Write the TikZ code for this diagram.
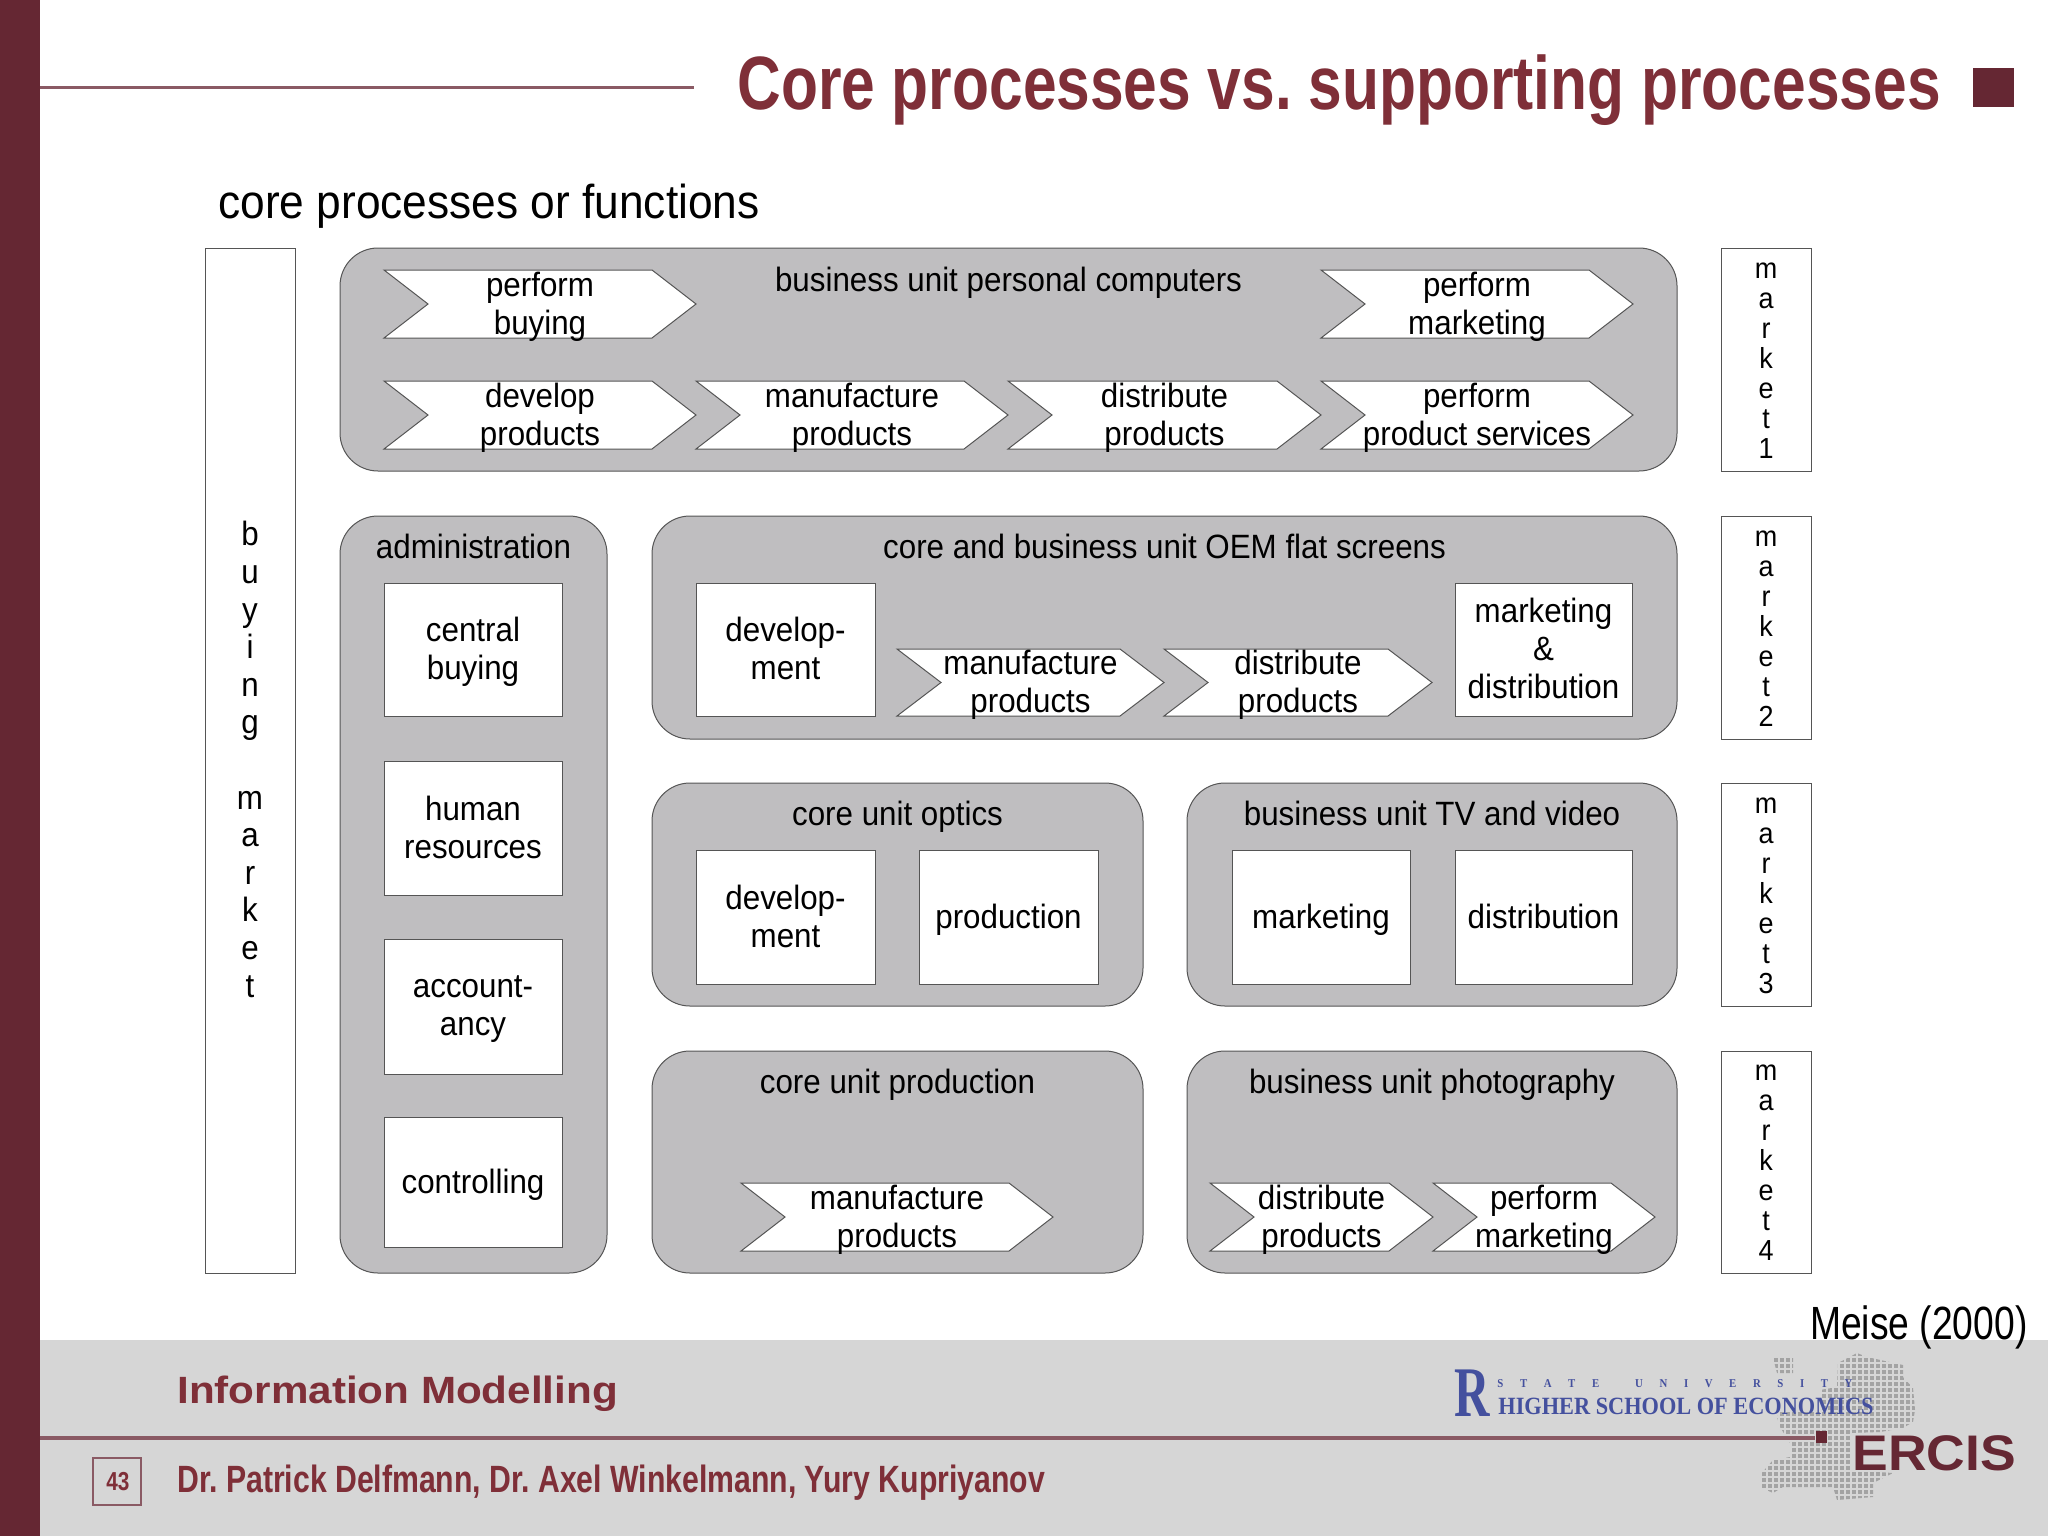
\documentclass[tikz,border=0pt]{standalone}
\usepackage{fontspec}
\usepackage{graphicx}
\setmainfont{Liberation Sans}
\newfontfamily\narrowf[FakeStretch=0.93]{Liberation Sans}
\newfontfamily\titlef[FakeStretch=0.80]{Liberation Sans}
\newfontfamily\authorf[FakeStretch=0.795]{Liberation Sans}
\newfontfamily\widef[FakeStretch=1.11]{Liberation Sans}
\newfontfamily\ercisf[FakeStretch=1.07]{Liberation Sans}
\newfontfamily\logof[FakeStretch=0.9]{Liberation Serif}
\newfontfamily\logoRf[FakeStretch=0.69]{Liberation Serif}
\frenchspacing
\definecolor{barc}{HTML}{652733}
\definecolor{redc}{HTML}{7F2F38}
\definecolor{linec}{HTML}{8A5A64}
\definecolor{foot}{HTML}{D6D6D6}
\definecolor{panel}{HTML}{BFBEC0}
\definecolor{edgec}{HTML}{555555}
\definecolor{hse}{HTML}{44509E}
\newcommand{\stt}{\vphantom{dg}}
\tikzset{
  lbl/.style={align=center,inner sep=0pt,font=\narrowf\fontsize{16.85}{19}\selectfont,
    execute at begin node=\stt,execute at end node=\stt},
  panelbox/.style={draw=edgec,line width=0.5pt,fill=panel,rounded corners=19pt},
  whitebox/.style={draw=edgec,line width=0.5pt,fill=white},
  chevbox/.style={draw=edgec,line width=0.5pt,fill=white,line join=miter},
  vert/.style={align=center,inner sep=0pt,anchor=center},
}
% \chev{name}{x1}{x2}{ytop}{ybot}{text}
\newcommand{\chev}[6]{%
  \draw[chevbox] (#2,#4) -- ({#3-44},#4) -- (#3,{(#4+#5)/2}) -- ({#3-44},#5) -- (#2,#5) -- ({#2+44},{(#4+#5)/2}) -- cycle;
  \node[lbl] (#1) at ({(#2+#3)/2},{(#4+#5)/2+2.6}) {#6};}
% \boxn{name}{x1}{x2}{y1}{y2}{text}
\newcommand{\boxn}[6]{%
  \draw[whitebox] (#2,#4) rectangle (#3,#5);
  \node[lbl] (#1) at ({(#2+#3)/2},{(#4+#5)/2+2.6}) {#6};}
\newcommand{\panel}[7]{%
  \draw[panelbox] (#2,#4) rectangle (#3,#5);
  \node[lbl] (#1) at ({(#2+#3)/2},#6) {#7};}
\newcommand{\market}[4]{%
  \draw[whitebox] (1721,#2) rectangle (1811,#3);
  \node[vert,font=\narrowf\fontsize{14.5}{15}\selectfont] (#1) at (1766,{(#2+#3)/2+1}) {m\\a\\r\\k\\e\\t\\#4};}
\begin{document}
\begin{tikzpicture}[x=0.5pt,y=-0.5pt]
\useasboundingbox (0,0) rectangle (2048,1536);
\fill[white] (0,0) rectangle (2048,1536);
% footer + bar
\fill[foot] (40,1340) rectangle (2048,1536);
\fill[barc] (0,0) rectangle (40,1536);
% title
\draw[linec,line width=1.5pt] (40,88) -- (694,88);
\node[anchor=base west,inner sep=0pt,text=redc,font=\titlef\bfseries\fontsize{37.8}{40}\selectfont] (title) at (737,109.5) {Core processes vs. supporting processes};
\fill[barc] (1973,68) rectangle (2014,107);
% subtitle
\node[anchor=base west,inner sep=0pt,font=\narrowf\fontsize{23.8}{26}\selectfont] (sub) at (218,218.6) {core processes or functions};
% buying market
\draw[whitebox] (205,248) rectangle (295,1273);
\node[vert,font=\narrowf\fontsize{16.85}{18.8}\selectfont] (buying) at (250,759.5) {b\\u\\y\\i\\n\\g\\[18.8pt]m\\a\\r\\k\\e\\t};
% markets
\market{m1}{248}{471}{1}
\market{m2}{516}{739}{2}
\market{m3}{783}{1006}{3}
\market{m4}{1051}{1273}{4}
% BU PC
\panel{pc}{340}{1677}{248}{471}{282.6}{business unit personal computers}
\chev{c1}{384}{696}{270}{338}{perform\\buying}
\chev{c2}{1321}{1633}{270}{338}{perform\\marketing}
\chev{c3}{384}{696}{381}{449}{develop\\products}
\chev{c4}{696}{1008}{381}{449}{manufacture\\products}
\chev{c5}{1008}{1321}{381}{449}{distribute\\products}
\chev{c6}{1321}{1633}{381}{449}{perform\\product services}
% administration
\panel{adm}{340}{607}{516}{1273}{549.3}{administration}
\boxn{a1}{384}{562}{583}{716}{central\\buying}
\boxn{a2}{384}{562}{761}{895}{human\\resources}
\boxn{a3}{384}{562}{939}{1074}{account-\\ancy}
\boxn{a4}{384}{562}{1117}{1247}{controlling}
% OEM
\panel{oem}{652}{1677}{516}{739}{549.3}{core and business unit OEM flat screens}
\boxn{o1}{696}{875}{583}{716}{develop-\\ment}
\chev{o2}{897}{1164}{649}{716}{manufacture\\products}
\chev{o3}{1164}{1432}{649}{716}{distribute\\products}
\boxn{o4}{1455}{1632}{583}{716}{marketing\\\&\\distribution}
% optics
\panel{op}{652}{1143}{783}{1006}{816.3}{core unit optics}
\boxn{p1}{696}{875}{850}{984}{develop-\\ment}
\boxn{p2}{919}{1098}{850}{984}{production}
% TV
\panel{tv}{1187}{1677}{783}{1006}{816.3}{business unit TV and video}
\boxn{t1}{1232}{1410}{850}{984}{marketing}
\boxn{t2}{1455}{1632}{850}{984}{distribution}
% production
\panel{pr}{652}{1143}{1051}{1273}{1084.3}{core unit production}
\chev{r1}{741}{1053}{1183}{1251}{manufacture\\products}
% photo
\panel{ph}{1187}{1677}{1051}{1273}{1084.3}{business unit photography}
\chev{h1}{1210}{1433}{1183}{1251}{distribute\\products}
\chev{h2}{1433}{1655}{1183}{1251}{perform\\marketing}
% citation
\node[anchor=base east,inner sep=0pt,font=\titlef\fontsize{23.3}{25}\selectfont] (cite) at (2028,1339.3) {Meise (2000)};
% map dots
\begin{scope}
\clip (1857,1353) -- (1867,1357) -- (1903,1365) -- (1903,1377) -- (1913,1388) -- (1915,1410) -- (1913,1422) -- (1903,1428) -- (1880,1432) -- (1850,1433) -- (1850,1470) -- (1893,1473) -- (1873,1483) -- (1873,1497) -- (1837,1500) -- (1833,1487) -- (1807,1487) -- (1783,1487) -- (1773,1493) -- (1760,1487) -- (1760,1475) -- (1773,1460) -- (1790,1457) -- (1790,1443) -- (1780,1427) -- (1777,1417) -- (1780,1412) -- (1820,1410) -- (1820,1390) -- (1837,1387) -- (1838,1363) -- cycle
 (1773,1358) -- (1793,1358) -- (1793,1373) -- (1777,1373) -- cycle;
\foreach \x in {1756,1762,...,1918}{\foreach \y in {1352,1358,...,1502}{\fill[gray!72] (\x,\y) rectangle +(4,4);}}
\end{scope}
% footer line
\draw[linec,line width=1.8pt] (40,1438) -- (1815,1438);
\fill[barc] (1816,1431) rectangle (1827,1443);
% logos
\node[anchor=base west,inner sep=0pt,text=hse,font=\logoRf\bfseries\fontsize{35.6}{36}\selectfont] (hr) at (1454,1416) {R};
\node[anchor=base west,inner sep=0pt,text=hse,font=\logof\bfseries\fontsize{6}{6}\selectfont] (su) at (1497,1387) {S\hspace{8.3pt}T\hspace{8.3pt}A\hspace{8.3pt}T\hspace{8.3pt}E\hspace{18pt}U\hspace{8.3pt}N\hspace{8.3pt}I\hspace{8.3pt}V\hspace{8.3pt}E\hspace{8.3pt}R\hspace{8.3pt}S\hspace{8.3pt}I\hspace{8.3pt}T\hspace{8.3pt}Y};
\node[anchor=base west,inner sep=0pt,text=hse,font=\logof\bfseries\fontsize{12.4}{14}\selectfont] (hs) at (1498,1414) {HIGHER SCHOOL OF ECONOMICS};
\node[anchor=base west,inner sep=0pt,text=barc,font=\ercisf\bfseries\fontsize{25}{26}\selectfont] (ercis) at (1852,1470.7) {ERCIS};
% footer text
\node[anchor=base west,inner sep=0pt,text=redc,font=\widef\bfseries\fontsize{19}{20}\selectfont] (im) at (177,1403) {Information Modelling};
\draw[linec,line width=1.2pt,fill=foot] (93,1458) rectangle (141,1505);
\node[inner sep=0pt,text=redc,font=\titlef\bfseries\fontsize{13}{13}\selectfont] (pg) at (118,1482) {43};
\node[anchor=base west,inner sep=0pt,text=redc,font=\authorf\bfseries\fontsize{19}{20}\selectfont] (au) at (177,1492) {Dr. Patrick Delfmann, Dr. Axel Winkelmann, Yury Kupriyanov};
\end{tikzpicture}
\end{document}
